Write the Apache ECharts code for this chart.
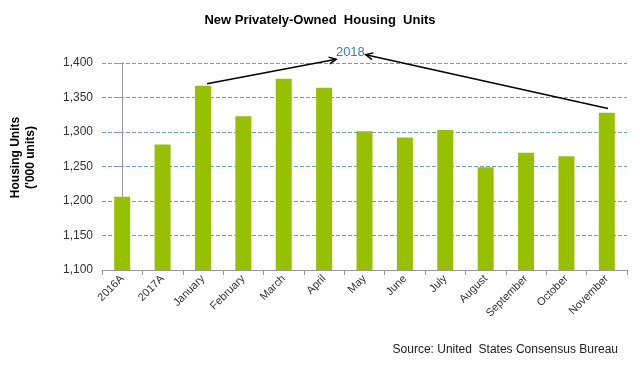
<!DOCTYPE html>
<html>
<head>
<meta charset="utf-8">
<script src="https://cdn.jsdelivr.net/npm/echarts@6/dist/echarts.min.js"></script>
<style>html,body{margin:0;padding:0;background:#fff;}#c{width:640px;height:365px;}</style>
</head>
<body>
<div id="c"></div>
<script>
const categories = ['2016A','2017A','January','February','March','April','May','June','July','August','September','October','November'];
const housingUnits = [1206, 1282, 1367, 1323, 1377, 1364, 1301, 1292, 1303, 1249, 1270, 1265, 1328];
const yTicks = [1100, 1150, 1200, 1250, 1300, 1350, 1400];
// annotation arrows: [fromIndex, fromValue, toIndex, toValue] in data space
const arrowData = [
  [2.1, 1370, 5.3, 1405.5],
  [12.03, 1334, 6.03, 1412]
];
const annotationLabel = { text: '2018', index: 5.65, value: 1416 };

const chart = echarts.init(document.getElementById('c'));
const FONT = '"Liberation Sans", Arial, sans-serif';

chart.setOption({
  animation: false,
  backgroundColor: '#ffffff',
  title: {
    text: 'New Privately-Owned  Housing  Units',
    left: 'center',
    top: 9,
    textStyle: { fontFamily: FONT, fontSize: 13, fontWeight: 'bold', color: '#000' }
  },
  grid: { left: 101, right: 13, top: 63, bottom: 95 },
  xAxis: [{
    type: 'category',
    data: categories,
    axisLine: { lineStyle: { color: '#999' } },
    axisTick: { show: true, length: 5, lineStyle: { color: '#999' } },
    axisLabel: { rotate: 45, fontFamily: FONT, fontSize: 11, color: '#333', margin: 7 }
  }, {
    type: 'value', min: -0.5, max: 12.5, show: false
  }],
  yAxis: {
    type: 'value',
    min: yTicks[0],
    max: yTicks[yTicks.length - 1],
    interval: 50,
    name: "Housing Units\n('000 units)",
    nameLocation: 'middle',
    nameRotate: 90,
    nameGap: 64,
    nameTextStyle: { fontFamily: FONT, fontSize: 12, fontWeight: 'bold', color: '#000', lineHeight: 15, padding: [0, 0, 0, 18] },
    axisLine: { show: true, lineStyle: { color: '#999' } },
    axisTick: { show: true, length: 4, lineStyle: { color: '#999' } },
    axisLabel: {
      fontFamily: FONT, fontSize: 12, color: '#333', margin: 9,
      formatter: v => v.toLocaleString('en-US')
    },
    splitLine: { show: true, lineStyle: { color: '#6f9fc4', type: [4, 2], width: 1 } }
  },
  graphic: [{
    type: 'text',
    right: 22,
    top: 344,
    style: { text: 'Source: United  States Consensus Bureau', font: '12px ' + FONT, fill: '#222' }
  }],
  series: [{
    type: 'bar',
    data: housingUnits,
    barWidth: 16,
    itemStyle: { color: '#97c100' }
  }, {
    type: 'custom',
    xAxisIndex: 1,
    yAxisIndex: 0,
    clip: false,
    data: arrowData,
    renderItem: function (params, api) {
      const p1 = api.coord([api.value(0), api.value(1)]);
      const p2 = api.coord([api.value(2), api.value(3)]);
      const ang = Math.atan2(p2[1] - p1[1], p2[0] - p1[0]);
      const L = 8, a = 0.45;
      const h1 = [p2[0] - L * Math.cos(ang - a), p2[1] - L * Math.sin(ang - a)];
      const h2 = [p2[0] - L * Math.cos(ang + a), p2[1] - L * Math.sin(ang + a)];
      const st = { stroke: '#000', lineWidth: 1.5, fill: null };
      return {
        type: 'group',
        children: [
          { type: 'line', shape: { x1: p1[0], y1: p1[1], x2: p2[0], y2: p2[1] }, style: st },
          { type: 'polyline', shape: { points: [h1, p2, h2] }, style: st }
        ]
      };
    }
  }, {
    type: 'custom',
    xAxisIndex: 1,
    yAxisIndex: 0,
    clip: false,
    data: [[annotationLabel.index, annotationLabel.value]],
    renderItem: function (params, api) {
      const p = api.coord([api.value(0), api.value(1)]);
      return {
        type: 'text',
        x: p[0], y: p[1],
        style: { text: annotationLabel.text, font: '13px ' + FONT, fill: '#3a7fc0', align: 'center', verticalAlign: 'middle' }
      };
    }
  }]
});
</script>
</body>
</html>
